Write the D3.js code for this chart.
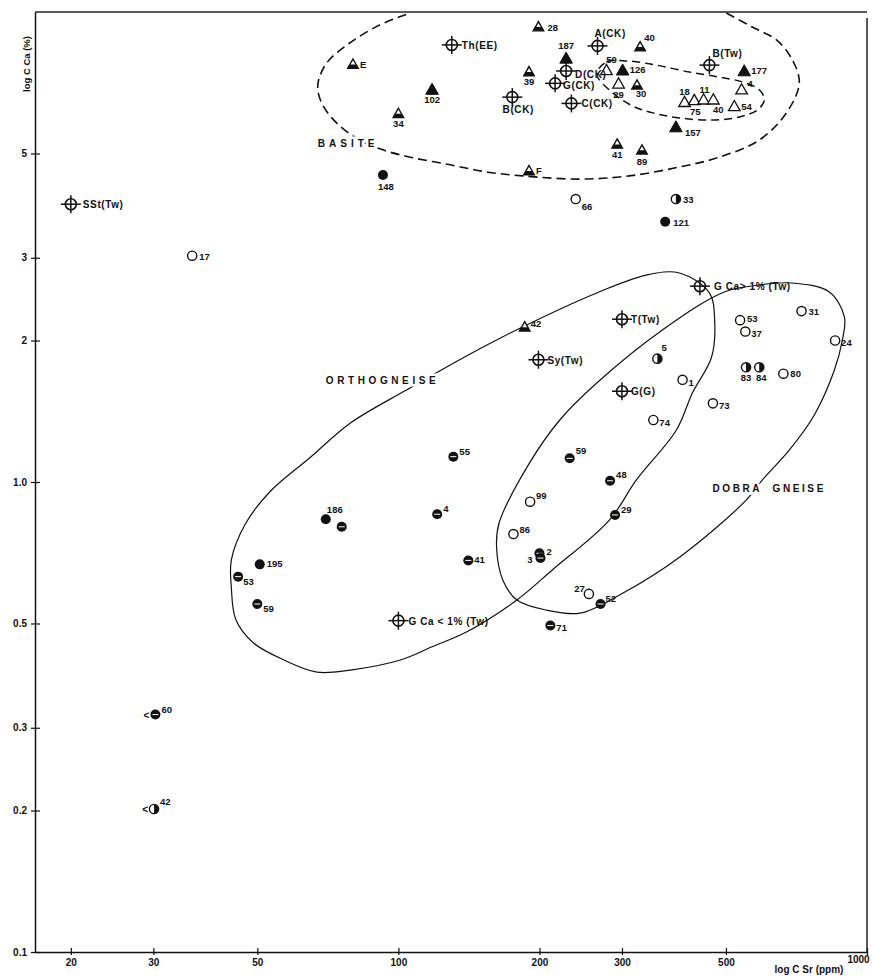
<!DOCTYPE html>
<html><head><meta charset="utf-8">
<script src="https://cdn.jsdelivr.net/npm/d3@7"></script>
<style>
body{margin:0;background:#fff;}
svg{display:block;background:#fff;}
text{font-family:"Liberation Sans",Arial,sans-serif;font-weight:bold;fill:#111;}
</style></head><body>
<svg id="chart" width="872" height="977"></svg>
<script>
// ---------------- DATA ----------------
const xTicks = [20, 30, 50, 100, 200, 300, 500, 1000];
const xTickLabels = ["20", "30", "50", "100", "200", "300", "500", "1000"];
const yTicks = [0.1, 0.2, 0.3, 0.5, 1, 2, 3, 5];
const yTickLabels = ["0.1", "0.2", "0.3", "0.5", "1.0", "2", "3", "5"];

// standards (crossed circles)
const stdLabels = ["SSt(Tw)", "Th(EE)", "A(CK)", "B(CK)", "D(CK)", "G(CK)", "C(CK)", "B(Tw)", "G Ca> 1% (Tw)", "T(Tw)", "Sy(Tw)", "G(G)", "G Ca < 1% (Tw)"];
const stdSr = [20, 130, 266, 175, 228, 216, 234, 461, 440, 300, 199, 300, 100];
const stdCa = [3.90, 8.51, 8.47, 6.59, 7.49, 7.05, 6.39, 7.71, 2.61, 2.22, 1.82, 1.56, 0.507];

// filled triangles
const triFLabels = ["187", "102", "126", "177", "157"];
const triFSr = [228, 118, 301, 547, 391];
const triFCa = [7.98, 6.85, 7.53, 7.50, 5.70];

// half-filled triangles
const triHLabels = ["28", "E", "39", "34", "F", "40", "30", "41", "89", "42"];
const triHSr = [199, 80, 190, 100, 190, 328, 323, 293, 331, 186];
const triHCa = [9.31, 7.75, 7.47, 6.09, 4.60, 8.44, 7.00, 5.24, 5.09, 2.14];

// open triangles
const triOLabels = ["59", "29", "18", "75", "11", "40", "4", "54"];
const triOSr = [278, 295, 408, 428, 448, 470, 540, 521];
const triOCa = [7.53, 7.05, 6.44, 6.50, 6.52, 6.52, 6.85, 6.31];

// filled circles
const cirFLabels = ["148", "121", "186", "195"];
const cirFSr = [92.7, 371, 70, 50.6];
const cirFCa = [4.50, 3.58, 0.833, 0.668];

// open circles
const cirOLabels = ["66", "17", "53", "37", "31", "24", "80", "1", "73", "74", "99", "86", "27"];
const cirOSr = [239, 36.3, 536, 550, 725, 855, 663, 404, 469, 350, 191, 176, 255];
const cirOCa = [4.0, 3.03, 2.21, 2.09, 2.31, 2.00, 1.70, 1.65, 1.47, 1.355, 0.908, 0.775, 0.578];

// half-filled circles
const cirHLabels = ["33", "5", "83", "84", "42"];
const cirHSr = [391, 357, 552, 589, 30.1];
const cirHCa = [4.0, 1.83, 1.754, 1.754, 0.2015];

// filled circles with mark
const cirXLabels = ["55", "4", "", "53", "59", "41", "59", "48", "29", "2", "3", "52", "71", "60"];
const cirXSr = [131, 121, 75.7, 45.5, 50, 141, 232, 283, 290, 200, 201, 270, 211, 30.3];
const cirXCa = [1.132, 0.854, 0.803, 0.629, 0.55, 0.681, 1.123, 1.006, 0.851, 0.705, 0.689, 0.55, 0.495, 0.32];

// "<" (below detection) flags
const lessThan = ["60", "42"];

// field envelopes (Sr ppm, Ca %)
const basiteSr = [501, 569, 641, 693, 717, 673, 589, 484, 398, 311, 244, 184, 154, 129, 106, 92.6, 82.7, 73.9, 68.6, 67.3, 70.3, 78.7, 91.2, 106];
const basiteCa = [9.95, 9.29, 8.72, 7.91, 7.06, 6.10, 5.34, 4.91, 4.68, 4.48, 4.41, 4.48, 4.57, 4.73, 4.91, 5.09, 5.34, 5.80, 6.40, 6.99, 7.79, 8.59, 9.38, 9.95];
const innerSr = [265, 278, 307, 355, 418, 484, 542, 589, 604, 584, 534, 468, 398, 349, 316, 285];
const innerCa = [7.38, 7.83, 7.87, 7.71, 7.45, 7.27, 7.10, 6.83, 6.50, 6.19, 5.98, 5.89, 5.95, 6.10, 6.31, 6.76];
const orthoSr = [398, 461, 473, 466, 424, 392, 322, 282, 213, 179, 140, 118, 101, 79, 67, 57, 49, 45, 44, 44, 47, 53, 65, 79, 104, 138.5, 184, 265, 338];
const orthoCa = [2.784, 2.525, 2.211, 1.845, 1.547, 1.290, 1.010, 0.830, 0.650, 0.561, 0.480, 0.446, 0.418, 0.398, 0.394, 0.418, 0.455, 0.509, 0.598, 0.682, 0.810, 0.950, 1.130, 1.335, 1.569, 1.845, 2.137, 2.525, 2.756];
const dobraSr = [496, 589, 690, 831, 895, 886, 852, 772, 683, 598, 553, 398, 301, 244, 207, 179, 167, 162, 164, 190.5, 221, 265, 366];
const dobraCa = [2.537, 2.625, 2.651, 2.537, 2.244, 2.005, 1.731, 1.389, 1.170, 1.010, 0.916, 0.692, 0.580, 0.526, 0.534, 0.561, 0.619, 0.727, 0.818, 1.098, 1.355, 1.624, 2.106];

// field names
const fieldNames = ["BASITE", "ORTHOGNEISE", "DOBRA  GNEISE"];
const fieldSr = [67.3, 70, 468];
const fieldCa = [5.15, 1.616, 0.952];

// ---------------- STYLE: label placement [dx, dy, anchor] ----------------
const stdPlace = [[12,4,"start"],[10,4,"start"],[-3,-9,"start"],[6,16,"middle"],[9,7,"start"],[8,6,"start"],[10,4,"start"],[3,-8,"start"],[14,4,"start"],[9,4,"start"],[9,4,"start"],[9,4,"start"],[10,4,"start"]];
const triFPlace = [[0,-9,"middle"],[0,14,"middle"],[7,3,"start"],[7,3,"start"],[9,9,"start"]];
const triHPlace = [[9,4,"start"],[7,4,"start"],[0,13,"middle"],[0,14,"middle"],[7,3,"start"],[4,-6,"start"],[4,12,"middle"],[0,14,"middle"],[0,15,"middle"],[6,0,"start"]];
const triOPlace = [[5,-7,"middle"],[0,15,"middle"],[0,-7,"middle"],[1,15,"middle"],[1,-6,"middle"],[5,14,"middle"],[6,-2,"start"],[7,4,"start"]];
const cirFPlace = [[3,15,"middle"],[8,4,"start"],[9,-6,"middle"],[7,3,"start"]];
const cirOPlace = [[6,11,"start"],[7,4,"start"],[7,2,"start"],[6,5,"start"],[7,4,"start"],[6,5,"start"],[7,3,"start"],[6,6,"start"],[6,6,"start"],[6,6,"start"],[6,-3,"start"],[6,-1,"start"],[-4,-2,"end"]];
const cirHPlace = [[7,4,"start"],[4,-8,"start"],[0,14,"middle"],[2,14,"middle"],[6,-4,"start"]];
const cirXPlace = [[6,-2,"start"],[6,-2,"start"],[0,0,"start"],[5,8,"start"],[6,8,"start"],[6,3,"start"],[6,-4,"start"],[6,-3,"start"],[6,-2,"start"],[7,2,"start"],[-8,5,"end"],[5,-2,"start"],[6,5,"start"],[6,-2,"start"]];

// ---------------- CHART ----------------
const svg = d3.select("#chart");
const x = d3.scaleLog().domain([16.77, 1000]).range([35, 867]);
const y = d3.scaleLog().domain([0.1, 10]).range([952, 12]);

// frame top & right
svg.append("line").attr("x1", x.range()[0]).attr("x2", x.range()[1]).attr("y1", y.range()[1]).attr("y2", y.range()[1])
  .attr("stroke", "#222").attr("stroke-width", 1.3);
svg.append("line").attr("x1", x.range()[1]).attr("x2", x.range()[1]).attr("y1", y.range()[1] + 6).attr("y2", y.range()[0])
  .attr("stroke", "#222").attr("stroke-width", 1.5);

// axes
const gx = svg.append("g").attr("transform", `translate(0,${y.range()[0]})`)
  .call(d3.axisBottom(x).tickValues(xTicks).tickFormat((d, i) => xTickLabels[i]).tickSizeInner(3).tickSizeOuter(0).tickPadding(4));
gx.select(".domain").attr("stroke", "#111").attr("stroke-width", 1.5);
gx.selectAll(".tick line").attr("y1", -4).attr("stroke", "#111").attr("stroke-width", 1.2);
gx.selectAll(".tick text").attr("font-family", null).attr("font-size", 10).attr("fill", "#111")
  .filter(d => d === 1000).attr("dx", -9).attr("dy", "0.35em");

const gy = svg.append("g").attr("transform", `translate(${x.range()[0]},0)`)
  .call(d3.axisLeft(y).tickValues(yTicks).tickFormat((d, i) => yTickLabels[i]).tickSizeInner(4).tickSizeOuter(0).tickPadding(4));
gy.select(".domain").attr("stroke", "#111").attr("stroke-width", 1.5);
gy.selectAll(".tick line").attr("x1", 5).attr("stroke", "#111").attr("stroke-width", 1.2);
gy.selectAll(".tick text").attr("font-family", null).attr("font-size", 10).attr("fill", "#111");

// axis titles
svg.append("text").attr("transform", "translate(30,64) rotate(-90)").attr("text-anchor", "middle")
  .attr("font-size", 9.5).text("log C Ca (%)");
svg.append("text").attr("x", 809).attr("y", 973).attr("text-anchor", "middle")
  .attr("font-size", 10).text("log C Sr (ppm)");

// envelopes
const pts = (srs, cas) => srs.map((s, i) => [x(s), y(cas[i])]);
svg.append("path").attr("d", d3.line().curve(d3.curveCatmullRom)(pts(basiteSr, basiteCa)))
  .attr("fill", "none").attr("stroke", "#111").attr("stroke-width", 1.6).attr("stroke-dasharray", "9,5");
svg.append("path").attr("d", d3.line().curve(d3.curveCatmullRomClosed)(pts(innerSr, innerCa)))
  .attr("fill", "none").attr("stroke", "#111").attr("stroke-width", 1.5).attr("stroke-dasharray", "8,5");
svg.append("path").attr("d", d3.line().curve(d3.curveCatmullRomClosed)(pts(orthoSr, orthoCa)))
  .attr("fill", "none").attr("stroke", "#111").attr("stroke-width", 1.2);
svg.append("path").attr("d", d3.line().curve(d3.curveCatmullRomClosed)(pts(dobraSr, dobraCa)))
  .attr("fill", "none").attr("stroke", "#111").attr("stroke-width", 1.2);

// field names
const fieldSpacing = [4, 3.6, 2.6];
fieldNames.forEach((n, i) => {
  svg.append("text").attr("x", x(fieldSr[i])).attr("y", y(fieldCa[i]))
    .attr("font-size", 10).attr("letter-spacing", fieldSpacing[i])
    .style("white-space", "pre")
    .attr("stroke", "#fff").attr("stroke-width", 5).attr("paint-order", "stroke")
    .text(n);
});

// markers
const gm = svg.append("g");
function triPath(cx, cy, h) {
  return `M${cx},${cy - h}L${cx + h * 1.05},${cy + h * 0.85}L${cx - h * 1.05},${cy + h * 0.85}Z`;
}
function marker(type, cx, cy) {
  const g = gm.append("g");
  if (type === "std") {
    g.append("circle").attr("cx", cx).attr("cy", cy).attr("r", 5.5).attr("fill", "none").attr("stroke", "#111").attr("stroke-width", 1.6);
    g.append("line").attr("x1", cx - 10).attr("x2", cx + 10).attr("y1", cy).attr("y2", cy).attr("stroke", "#111").attr("stroke-width", 1.5);
    g.append("line").attr("x1", cx).attr("x2", cx).attr("y1", cy - 9).attr("y2", cy + 9).attr("stroke", "#111").attr("stroke-width", 1.5);
  } else if (type === "triF") {
    g.append("path").attr("d", triPath(cx, cy, 6)).attr("fill", "#111").attr("stroke", "#111").attr("stroke-width", 1);
  } else if (type === "triO") {
    g.append("path").attr("d", triPath(cx, cy, 5.5)).attr("fill", "#fff").attr("stroke", "#111").attr("stroke-width", 1.3);
  } else if (type === "triH") {
    const h = 5;
    g.append("path").attr("d", triPath(cx, cy, h)).attr("fill", "#fff").attr("stroke", "#111").attr("stroke-width", 1.4);
    const ym = cy + 0.5, w = h * 1.05 * ((ym - (cy - h)) / (h * 1.85));
    g.append("path").attr("d", `M${cx - w},${ym}L${cx + w},${ym}L${cx + h * 1.05},${cy + h * 0.85}L${cx - h * 1.05},${cy + h * 0.85}Z`).attr("fill", "#111");
  } else if (type === "cirF") {
    g.append("circle").attr("cx", cx).attr("cy", cy).attr("r", 5).attr("fill", "#111");
  } else if (type === "cirO") {
    g.append("circle").attr("cx", cx).attr("cy", cy).attr("r", 4.6).attr("fill", "#fff").attr("stroke", "#111").attr("stroke-width", 1.4);
  } else if (type === "cirH") {
    g.append("circle").attr("cx", cx).attr("cy", cy).attr("r", 4.6).attr("fill", "#fff").attr("stroke", "#111").attr("stroke-width", 1.4);
    g.append("path").attr("d", `M${cx},${cy - 4.6}A4.6,4.6 0 0 1 ${cx},${cy + 4.6}Z`).attr("fill", "#111");
  } else if (type === "cirX") {
    g.append("circle").attr("cx", cx).attr("cy", cy).attr("r", 5).attr("fill", "#111");
    g.append("line").attr("x1", cx - 3).attr("x2", cx + 3).attr("y1", cy).attr("y2", cy).attr("stroke", "#fff").attr("stroke-width", 1);
  }
}

const series = [
  {type: "std", labels: stdLabels, sr: stdSr, ca: stdCa, place: stdPlace},
  {type: "triF", labels: triFLabels, sr: triFSr, ca: triFCa, place: triFPlace},
  {type: "triH", labels: triHLabels, sr: triHSr, ca: triHCa, place: triHPlace},
  {type: "triO", labels: triOLabels, sr: triOSr, ca: triOCa, place: triOPlace},
  {type: "cirF", labels: cirFLabels, sr: cirFSr, ca: cirFCa, place: cirFPlace},
  {type: "cirO", labels: cirOLabels, sr: cirOSr, ca: cirOCa, place: cirOPlace},
  {type: "cirH", labels: cirHLabels, sr: cirHSr, ca: cirHCa, place: cirHPlace},
  {type: "cirX", labels: cirXLabels, sr: cirXSr, ca: cirXCa, place: cirXPlace}
];

const gl = svg.append("g");
series.forEach(s => {
  s.sr.forEach((v, i) => {
    const cx = x(v), cy = y(s.ca[i]);
    marker(s.type, cx, cy);
    const p = s.place[i];
    if (s.labels[i]) {
      gl.append("text").attr("x", cx + p[0]).attr("y", cy + p[1]).attr("text-anchor", p[2])
        .attr("font-size", s.type === "std" ? 10 : 9.5)
        .attr("letter-spacing", s.type === "std" ? 0.6 : 0)
        .style("white-space", "pre")
        .text(s.labels[i]);
    }
    if ((s.type === "cirX" || s.type === "cirH") && lessThan.includes(s.labels[i]) && s.ca[i] < 0.4) {
      gl.append("text").attr("x", cx - 6).attr("y", cy + 4).attr("text-anchor", "end").attr("font-size", 10).text("<");
    }
  });
});
</script>
</body></html>
